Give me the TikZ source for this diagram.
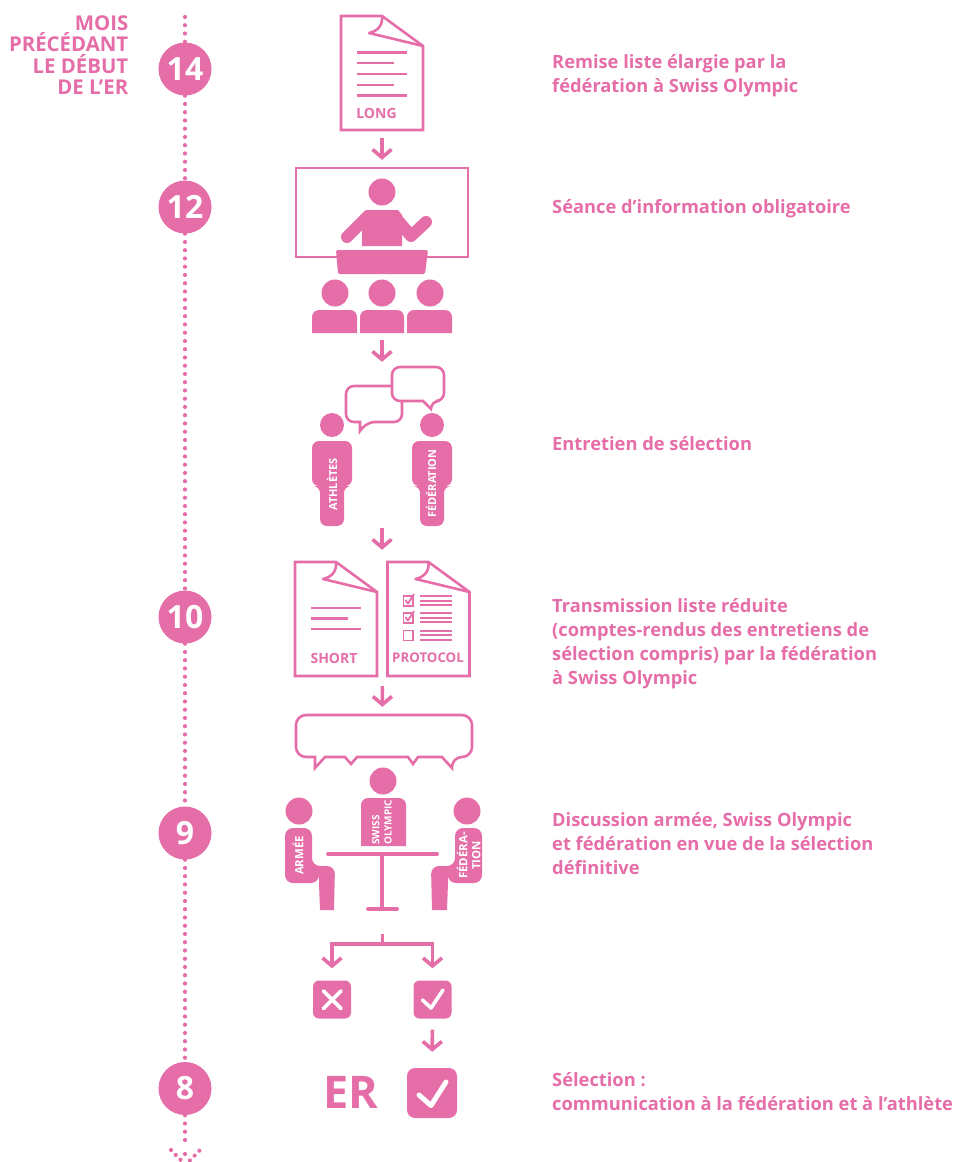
\documentclass[tikz,border=0pt]{standalone}
\usepackage{fontspec}
\setmainfont{Open Sans}
\usetikzlibrary{arrows.meta}
\definecolor{swisspink}{HTML}{E56DA8}

\tikzset{
  monthdot/.style={circle,fill=swisspink,text=white,minimum size=53pt,inner sep=0pt,font=\bfseries\fontsize{32}{32}\selectfont},
  timeline/.style={draw=swisspink,line width=4.2pt,line cap=round,dash pattern=on 0pt off 8.25pt},
  caption/.style={anchor=west,align=left,inner sep=0pt,text=swisspink,font=\bfseries\fontsize{18.3}{24}\selectfont},
  iconbox/.style={inner sep=0pt,minimum width=#1},
  outline/.style={draw=swisspink,line width=2.6pt,fill=white},
  rule/.style={draw=swisspink,line width=2.6pt},
  flow/.style={draw=swisspink,line width=3.6pt,-{Straight Barb[length=8pt,width=19pt]}},
  tickmark/.style={draw=white,line cap=round,line join=round},
  doclabel/.style={inner sep=0pt,text=swisspink,font=\bfseries\fontsize{14}{14}\selectfont},
  bodylabel/.style={inner sep=0pt,text=white,rotate=90,font=\bfseries\fontsize{11}{12.5}\selectfont},
  checkbox/.style={fill=swisspink,rounded corners=#1,inner sep=0pt}
}

% sheet of paper with a curled corner, top left at #1,#2
\newcommand{\docsheet}[2]{
  \draw[rule,line join=miter] (#1,#2) -- (#1+41,#2) -- (#1+82,#2+30) -- (#1+82,#2+114) -- (#1,#2+114) -- cycle;
  \draw[rule,line join=round] (#1+41,#2) .. controls (#1+42,#2+9) and (#1+37,#2+15) .. (#1+28,#2+17) -- (#1+82,#2+30);
}
% standing figure, middle at #1
\newcommand{\standing}[1]{
  \fill[swisspink] (#1,425) circle (12);
  \fill[swisspink,rounded corners=7pt] (#1-20,441) -- (#1+20,441) -- (#1+20,486) -- (#1+12,486) -- (#1+12,526) -- (#1-12,526) -- (#1-12,486) -- (#1-20,486) -- cycle;
}

\begin{document}
\begin{tikzpicture}[x=1pt,y=-1pt]

\useasboundingbox (0,0) rectangle (954,1162);

\node[monthdot] (m14) at (185,69) {14};
\node[monthdot] (m12) at (185,207) {12};
\node[monthdot] (m10) at (185,617) {10};
\node[monthdot] (m9) at (185,833) {9};
\node[monthdot] (m8) at (185,1088.5) {8};
\coordinate (linestart) at (185,17);
\coordinate (lineend) at (185,1146);
\coordinate (chevleft) at (171,1150);
\coordinate (chevtip) at (185.5,1165);
\coordinate (chevright) at (200,1150);

\draw[timeline] (linestart) -- (m14);
\draw[timeline] (m14) -- (m12);
\draw[timeline] (m12) -- (m10);
\draw[timeline] (m10) -- (m9);
\draw[timeline] (m9) -- (m8);
\draw[timeline] (m8) -- (lineend);
\fill[swisspink] (185,1154) circle (2.1);
\begin{scope}
\clip (150,1140) rectangle (220,1162);
\draw[timeline,dash pattern=on 0pt off 6.8pt] (chevleft) -- (chevtip) -- (chevright);
\end{scope}

\node[anchor=east,align=right,inner sep=0pt,text=swisspink,font=\bfseries\fontsize{20.4}{21.3}\selectfont] (heading) at (128.5,55) {MOIS\\PRÉCÉDANT\\LE DÉBUT\\DE L’ER};

\node[caption] (text14) at (552,75.5) {Remise liste élargie par la\\fédération à Swiss Olympic};
\node[caption] (text12) at (552,208.5) {Séance d’information obligatoire};
\node[caption] (textint) at (552,443.5) {Entretien de sélection};
\node[caption] (text10) at (552,643.5) {Transmission liste réduite\\(comptes-rendus des entretiens de\\sélection compris) par la fédération\\à Swiss Olympic};
\node[caption] (text9) at (552,843.5) {Discussion armée, Swiss Olympic\\et fédération en vue de la sélection\\définitive};
\node[caption] (text8) at (552,1091.5) {Sélection :\\communication à la fédération et à l’athlète};

% long list
\node[iconbox=82pt,minimum height=114pt] (doclong) at (382,73) {};
\docsheet{341}{16}
\foreach \y/\xend in {52.5/407,63/394,74/407,85/394,95.5/407}
  \draw[rule] (357,\y) -- (\xend,\y);
\node[doclabel] (longlabel) at (376.5,113) {LONG};

% information session
\node[iconbox=172pt,minimum height=165pt] (session) at (382,250.5) {};
\draw[rule] (296,168) rectangle (468,257);
\fill[swisspink] (382,192) circle (13.5);
\fill[swisspink] (362,246) -- (362,214) -- (366,210) -- (398,210) -- (402,215) -- (402,246) -- cycle;
\draw[swisspink,line width=12pt,line cap=round] (368,216) -- (347,237);
\draw[swisspink,line width=12pt,line cap=round,line join=round] (395,217) -- (411,236) -- (426,222);
\fill[swisspink,rounded corners=1.5pt] (336,250) -- (428,250) -- (425,274) -- (338,274) -- cycle;
\foreach \xhead/\xa/\xb in {335/312/357,382/360/404,430/407/452}{
  \fill[swisspink] (\xhead,293) circle (13.5);
  \fill[swisspink,rounded corners=7pt] (\xa,333) [sharp corners] -- (\xa,333) [rounded corners=7pt] -- (\xa,310) -- (\xb,310) [sharp corners] -- (\xb,333) -- cycle;
}

% selection talk
\node[iconbox=140pt,minimum height=159pt] (talk) at (382,446.5) {};
\draw[outline,rounded corners=8pt] (346,386) -- (402,386) -- (402,422) -- (367,422) [sharp corners] -- (360,431) -- (360,422) [rounded corners=8pt] -- (346,422) -- cycle;
\draw[outline,rounded corners=8pt] (392,367) -- (444,367) -- (444,401) -- (431,401) [sharp corners] -- (431,409) -- (423,401) [rounded corners=8pt] -- (392,401) -- cycle;
\standing{332}
\standing{432}
\node[bodylabel,font=\bfseries\fontsize{11}{11}\selectfont] (athletes) at (332,484.5) {ATHLÈTES};
\node[bodylabel,font=\bfseries\fontsize{11}{11}\selectfont] (federation) at (431,483.5) {FÉDÉRATION};

% reduced list and protocols
\node[iconbox=174pt,minimum height=113pt] (reports) at (382,618.5) {};
\docsheet{295}{562}
\docsheet{387.5}{562}
\foreach \y/\xend in {608/361,618.5/348,629/361}
  \draw[rule] (311,\y) -- (\xend,\y);
\node[doclabel] (shortlabel) at (334,658) {SHORT};
\node[doclabel,font=\bfseries\fontsize{13.3}{13.3}\selectfont] (protocollabel) at (428,658) {PROTOCOL};
\foreach \y in {596,613,630.5}{
  \draw[draw=swisspink,line width=1.8pt] (403.5,\y) rectangle (413,\y+10);
  \foreach \dy in {0,4.7,9.4}
    \draw[draw=swisspink,line width=2pt] (420,\y+\dy) -- (452,\y+\dy);
}
\foreach \y in {596,613}
  \draw[draw=swisspink,line width=1.8pt,line join=round] (405.5,\y+4) -- (408,\y+7.5) -- (414,\y-2);

% discussion
\node[iconbox=198pt,minimum height=195pt] (meeting) at (383,812.5) {};
\draw[outline,rounded corners=10pt] (296,715) -- (472,715) -- (472,757) -- (452,757) [sharp corners] -- (452,768) -- (442,757) -- (418,757) -- (413,764) -- (408,757) -- (357,757) -- (351,764) -- (345,757) -- (325,757) -- (315,768) -- (315,757) [rounded corners=10pt] -- (296,757) -- cycle;
\fill[swisspink] (383,781) circle (13.5);
\fill[swisspink,rounded corners=7pt] (361,846) [sharp corners] -- (361,846) [rounded corners=7pt] -- (361,798) -- (406,798) [sharp corners] -- (406,846) -- cycle;
\node[bodylabel,anchor=west,align=left,font=\bfseries\fontsize{10}{12.3}\selectfont] (swissolympic) at (382,845) {SWISS\\OLYMPIC};
\draw[draw=swisspink,line width=3.8pt,line cap=round] (328,854) -- (437,854);
\draw[draw=swisspink,line width=3.8pt] (382,854) -- (382,909);
\draw[draw=swisspink,line width=3.8pt,line cap=round] (368,909) -- (397,909);
\fill[swisspink] (299,811) circle (13.5);
\fill[swisspink] (467,811) circle (13.5);
\fill[swisspink,rounded corners=8pt] (285,828) -- (312,828) -- (312,866) -- (335,866) [sharp corners] -- (334,910) -- (320,910) -- (319,883) [rounded corners=8pt] -- (319,883) -- (285,883) -- cycle;
\fill[swisspink,rounded corners=8pt] (482,828) -- (455,828) -- (455,866) -- (431,866) [sharp corners] -- (432,910) -- (447,910) -- (448,883) [rounded corners=8pt] -- (448,883) -- (482,883) -- cycle;
\node[bodylabel,font=\bfseries\fontsize{11.4}{11.4}\selectfont] (armee) at (298,855.5) {ARMÉE};
\node[bodylabel,align=center,font=\bfseries\fontsize{11.4}{13}\selectfont] (federa) at (468.5,855.5) {FÉDÉRA-\\TION};

% outcome boxes
\coordinate (split) at (382.5,944);
\node[checkbox=6pt,minimum size=38pt] (boxno) at (332,999.5) {};
\node[checkbox=6pt,minimum size=38pt] (boxyes) at (432.5,999.5) {};
\node[checkbox=8pt,minimum size=50pt] (boxfinal) at (432,1093) {};
\draw[tickmark,line width=3.6pt] (323.5,991) -- (341,1008.5) (341,991) -- (323.5,1008.5);
\draw[tickmark,line width=3.6pt] (422.5,1000) -- (431,1008) -- (443,990);
\draw[tickmark,line width=5pt] (419,1095) -- (431,1105.5) -- (446,1082);
\node[inner sep=0pt,text=swisspink,font=\bfseries\fontsize{45}{45}\selectfont] (erlabel) at (350.5,1092.5) {ER};

\draw[flow,shorten <=8pt,shorten >=8pt] (doclong) -- (session);
\draw[flow,shorten <=7pt,shorten >=5pt] (session) -- (talk);
\draw[flow,shorten <=2pt,shorten >=12pt] (talk) -- (reports);
\draw[flow,shorten <=11pt,shorten >=8pt] (reports) -- (meeting);
\draw[draw=swisspink,line width=3.6pt,shorten <=24pt] (meeting.south -| split) -- (split);
\draw[flow,shorten >=12pt] (split) -| (boxno);
\draw[flow,shorten >=12pt] (split) -| (boxyes);
\draw[flow,shorten <=11pt,shorten >=16pt] (boxyes) -- (boxfinal);

\end{tikzpicture}
\end{document}
